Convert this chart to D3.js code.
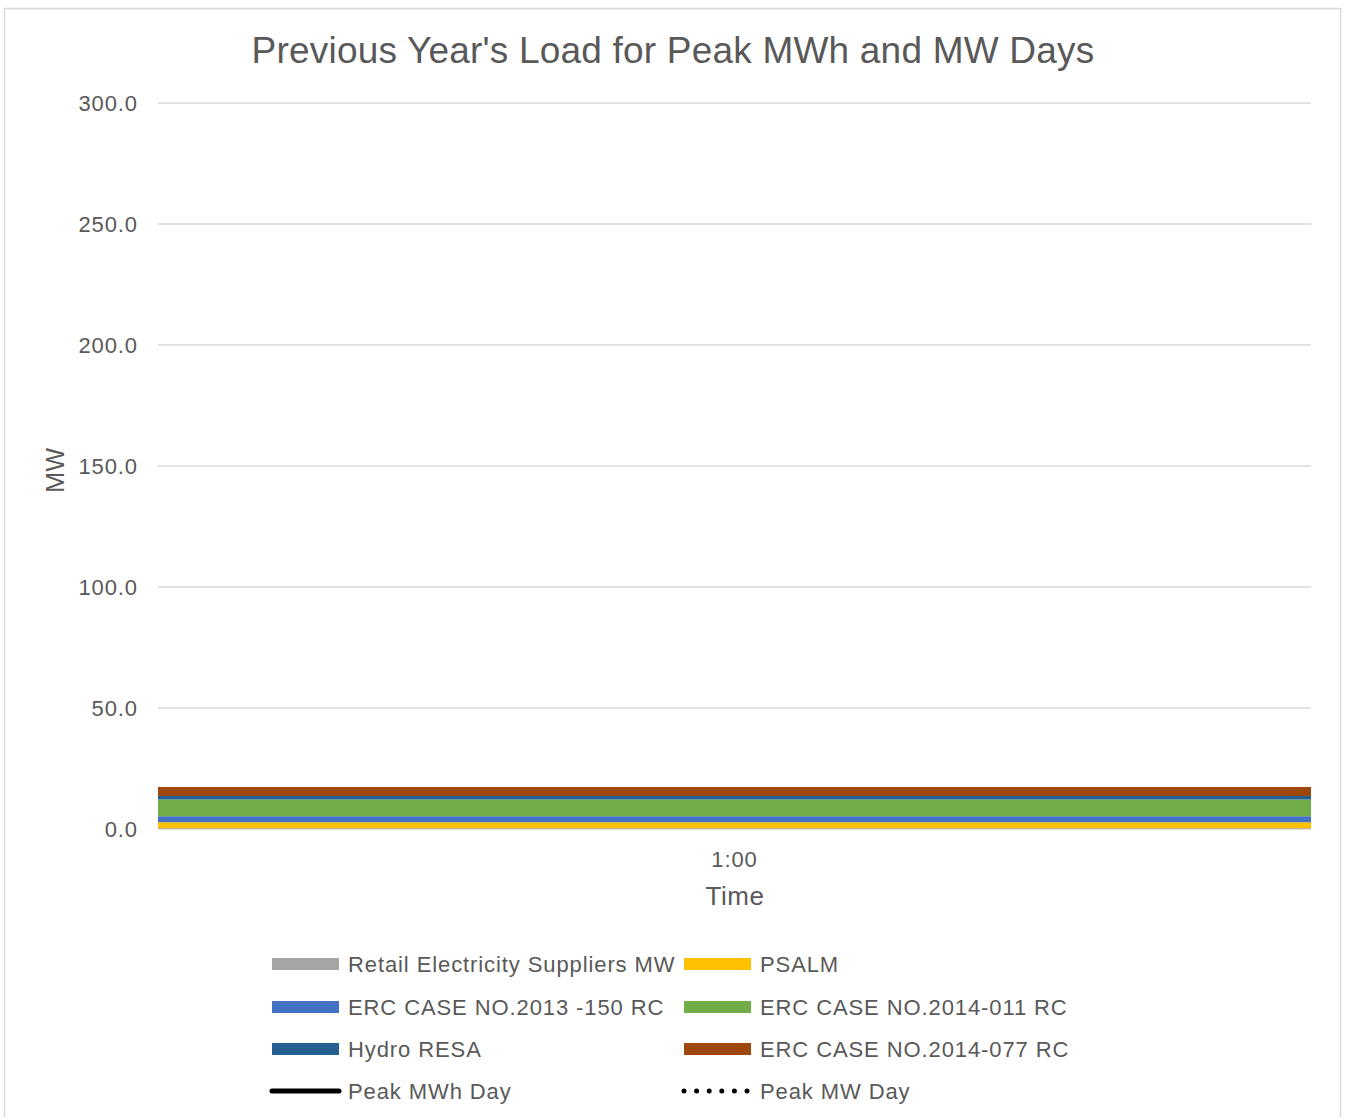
<!DOCTYPE html>
<html><head><meta charset="utf-8">
<script src="https://cdn.jsdelivr.net/npm/d3@7"></script>
<style>body{margin:0;background:#fff;font-family:"Liberation Sans",Arial,sans-serif;}</style>
</head><body>
<svg id="chart" width="1349" height="1117"></svg>
<script>
const categories = ["1:00"];
const seriesNames = ["Retail Electricity Suppliers MW","PSALM","ERC CASE NO.2013 -150 RC","ERC CASE NO.2014-011 RC","Hydro RESA","ERC CASE NO.2014-077 RC"];
const retailMW = [0.3];
const psalm = [2.5];
const erc2013_150 = [2.5];
const erc2014_011 = [6.9];
const hydroRESA = [1.4];
const erc2014_077 = [3.8];
const peakMWhDay = [];
const peakMWDay = [];
const yTicks = [0,50,100,150,200,250,300];
const colors = ["#a5a5a5","#ffc000","#4472c4","#70ad47","#255e91","#9e480e"];

const svg = d3.select("#chart");
svg.append("rect").attr("x",4.5).attr("y",8.5).attr("width",1336).attr("height",1120).attr("fill","#fff").attr("stroke","#d9d9d9").attr("stroke-width",1.5);

const m={l:158,r:1311,t:103,b:829};
const x=d3.scaleBand().domain(categories).range([m.l,m.r]).padding(0);
const y=d3.scaleLinear().domain([0,300]).range([m.b,m.t]);

svg.append("text").attr("x",673).attr("y",63).attr("text-anchor","middle").attr("font-size",37).attr("letter-spacing",0.2).attr("fill","#595959").text("Previous Year's Load for Peak MWh and MW Days");

const g=svg.append("g");
yTicks.forEach(t=>{
  g.append("line").attr("x1",m.l).attr("x2",m.r).attr("y1",y(t)).attr("y2",y(t)).attr("stroke","#d9d9d9").attr("stroke-width",1.5);
  g.append("text").attr("x",138).attr("y",y(t)+8).attr("text-anchor","end").attr("font-size",22).attr("letter-spacing",0.9).attr("fill","#595959").text(t.toFixed(1));
});

const data=categories.map((c,i)=>({cat:c,s0:retailMW[i],s1:psalm[i],s2:erc2013_150[i],s3:erc2014_011[i],s4:hydroRESA[i],s5:erc2014_077[i]}));
const keys=["s0","s1","s2","s3","s4","s5"];
const stack=d3.stack().keys(keys)(data);
stack.forEach((layer,k)=>{
  const pts=[];
  layer.forEach(d=>{pts.push({x:x(d.data.cat),y0:d[0],y1:d[1]});pts.push({x:x(d.data.cat)+x.bandwidth(),y0:d[0],y1:d[1]});});
  const area=d3.area().x(p=>p.x).y0(p=>y(p.y0)).y1(p=>y(p.y1));
  g.append("path").attr("d",area(pts)).attr("fill",colors[k]);
});

categories.forEach(c=>{
  svg.append("text").attr("x",x(c)+x.bandwidth()/2).attr("y",867).attr("text-anchor","middle").attr("font-size",22).attr("letter-spacing",0.9).attr("fill","#595959").text(c);
});
svg.append("text").attr("x",735).attr("y",905).attr("text-anchor","middle").attr("font-size",26).attr("letter-spacing",0.5).attr("fill","#595959").text("Time");
svg.append("text").attr("transform","translate(64,470) rotate(-90)").attr("text-anchor","middle").attr("font-size",25).attr("letter-spacing",0.5).attr("fill","#595959").text("MW");

const legend=[
  {name:seriesNames[0],c:colors[0],type:"rect"},{name:seriesNames[1],c:colors[1],type:"rect"},
  {name:seriesNames[2],c:colors[2],type:"rect"},{name:seriesNames[3],c:colors[3],type:"rect"},
  {name:seriesNames[4],c:colors[4],type:"rect"},{name:seriesNames[5],c:colors[5],type:"rect"},
  {name:"Peak MWh Day",c:"#000",type:"line"},{name:"Peak MW Day",c:"#000",type:"dot"}
];
const colX=[272,684], rowY=[964,1007,1049,1091];
legend.forEach((L,i)=>{
  const cx=colX[i%2], cy=rowY[Math.floor(i/2)];
  if(L.type==="rect") svg.append("rect").attr("x",cx).attr("y",cy-6).attr("width",67).attr("height",12).attr("fill",L.c);
  else if(L.type==="line") svg.append("line").attr("x1",cx).attr("x2",cx+67).attr("y1",cy).attr("y2",cy).attr("stroke","#000").attr("stroke-width",5).attr("stroke-linecap","round");
  else svg.append("line").attr("x1",cx).attr("x2",cx+67).attr("y1",cy).attr("y2",cy).attr("stroke","#000").attr("stroke-width",5).attr("stroke-linecap","round").attr("stroke-dasharray","0,12.6");
  svg.append("text").attr("x",cx+76).attr("y",cy+8).attr("font-size",22).attr("letter-spacing",0.9).attr("fill","#595959").text(L.name);
});
</script>
</body></html>
